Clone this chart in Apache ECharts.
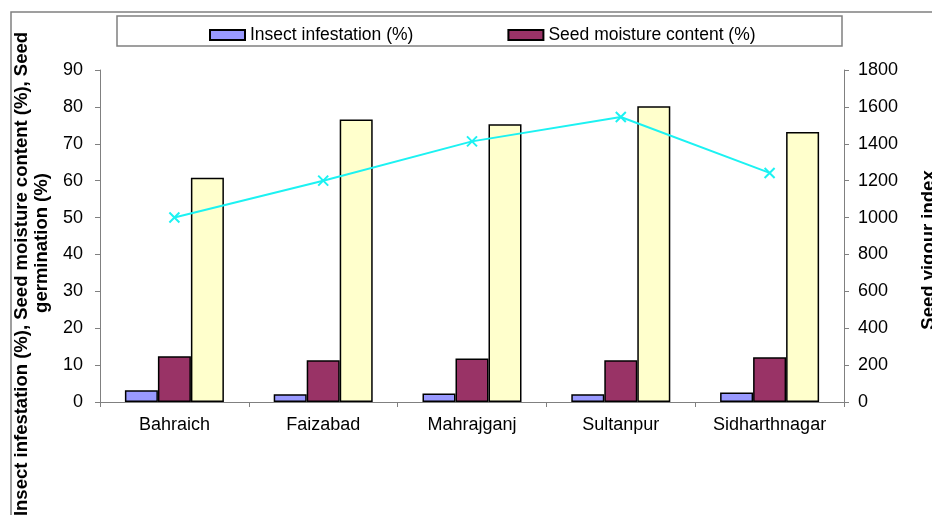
<!DOCTYPE html>
<html>
<head>
<meta charset="utf-8">
<script src="https://cdn.jsdelivr.net/npm/echarts@6/dist/echarts.min.js"></script>
<style>html,body{margin:0;padding:0;background:#fff}#c{width:932px;height:515px}</style>
</head>
<body>
<div id="c"></div>
<script>
const categories = ['Bahraich', 'Faizabad', 'Mahrajganj', 'Sultanpur', 'Sidharthnagar'];
const insectInfestation = [3.2, 2.1, 2.3, 2.1, 2.6];
const seedMoisture = [12.4, 11.3, 11.8, 11.3, 12.1];
const seedGermination = [60.8, 76.6, 75.3, 80.2, 73.2];
const seedVigour = [1000, 1200, 1413, 1545, 1242];
const leftTicks = { min: 0, max: 90, interval: 10 };
const rightTicks = { min: 0, max: 1800, interval: 200 };

const FONT = 'Liberation Sans, Arial, sans-serif';
const chart = echarts.init(document.getElementById('c'), null, { renderer: 'canvas' });
const barBase = { type: 'bar', barWidth: 33, barGap: '0%' };
chart.setOption({
  animation: false,
  textStyle: { fontFamily: FONT },
  grid: { left: 100, right: 88, top: 70, bottom: 113 },
  legend: {
    data: ['Insect infestation (%)', 'Seed moisture content (%)'],
    left: 204, top: 21,
    itemWidth: 35, itemHeight: 10, itemGap: 94,
    icon: 'rect',
    textStyle: { fontFamily: FONT, fontSize: 17.5, color: '#000' }
  },
  xAxis: {
    type: 'category', data: categories,
    axisLine: { lineStyle: { color: '#808080' } },
    axisTick: { show: true, length: 5, lineStyle: { color: '#808080' } },
    axisLabel: { fontFamily: FONT, fontSize: 18, color: '#000', margin: 14 }
  },
  yAxis: [{
    type: 'value', min: leftTicks.min, max: leftTicks.max, interval: leftTicks.interval,
    axisLine: { show: true, lineStyle: { color: '#808080' } },
    axisTick: { show: true, length: 5, lineStyle: { color: '#808080' } },
    splitLine: { show: false },
    axisLabel: { fontFamily: FONT, fontSize: 18, color: '#000', margin: 17 }
  }, {
    type: 'value', position: 'right', min: rightTicks.min, max: rightTicks.max, interval: rightTicks.interval,
    axisLine: { show: true, lineStyle: { color: '#808080' } },
    axisTick: { show: true, length: 5, lineStyle: { color: '#808080' } },
    splitLine: { show: false },
    axisLabel: { fontFamily: FONT, fontSize: 18, color: '#000', margin: 14, formatter: v => String(v) }
  }],
  series: [
    Object.assign({}, barBase, { name: 'Insect infestation (%)', data: insectInfestation,
      itemStyle: { color: '#9999FF', borderColor: '#000', borderWidth: 1.5 } }),
    Object.assign({}, barBase, { name: 'Seed moisture content (%)', data: seedMoisture,
      itemStyle: { color: '#993366', borderColor: '#000', borderWidth: 1.5 } }),
    Object.assign({}, barBase, { name: 'Seed germination (%)', data: seedGermination,
      itemStyle: { color: '#FFFFCC', borderColor: '#000', borderWidth: 1.5 } }),
    { type: 'line', name: 'Seed vigour index', yAxisIndex: 1, data: seedVigour,
      symbol: 'path://M0,0L10,10M10,0L0,10', symbolSize: 10,
      lineStyle: { color: '#1CF2F2', width: 2 },
      itemStyle: { color: 'rgba(0,0,0,0)', borderColor: '#1CF2F2', borderWidth: 2 },
      z: 5 }
  ],
  graphic: [
    { type: 'rect', shape: { x: 11, y: 12, width: 1000, height: 600 }, style: { fill: 'none', stroke: '#808080', lineWidth: 1.5 }, silent: true, z: -1 },
    { type: 'rect', shape: { x: 117, y: 16, width: 725, height: 30 }, style: { fill: 'none', stroke: '#808080', lineWidth: 1.5 }, silent: true },
    { type: 'text', x: 22, y: 274, rotation: Math.PI / 2, style: { text: 'Insect infestation (%), Seed moisture content (%), Seed', font: 'bold 18.5px ' + FONT, fill: '#000', align: 'center', verticalAlign: 'middle' } },
    { type: 'text', x: 42, y: 243, rotation: Math.PI / 2, style: { text: 'germination (%)', font: 'bold 18.5px ' + FONT, fill: '#000', align: 'center', verticalAlign: 'middle' } },
    { type: 'text', x: 929, y: 250, rotation: Math.PI / 2, style: { text: 'Seed vigour index', font: 'bold 18.5px ' + FONT, fill: '#000', align: 'center', verticalAlign: 'middle' } }
  ]
});
</script>
</body>
</html>
